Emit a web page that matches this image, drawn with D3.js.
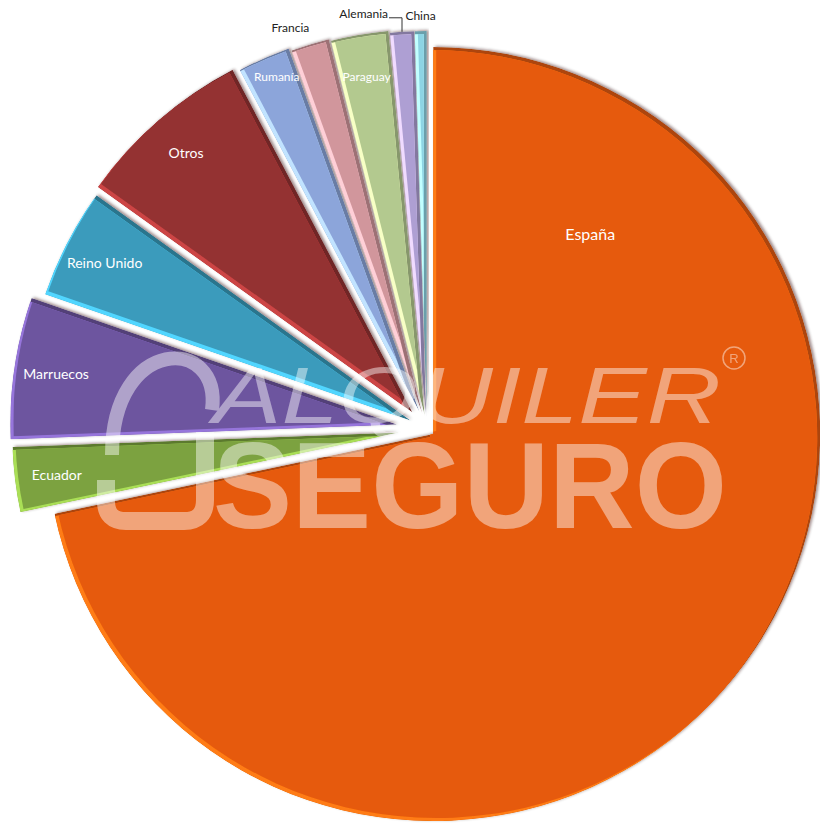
<!DOCTYPE html>
<html>
<head>
<meta charset="utf-8">
<script src="https://cdn.jsdelivr.net/npm/d3@7"></script>
<style>
  body { margin: 0; background: #fff; }
  svg { display: block; }
</style>
</head>
<body>
<div id="chart"></div>
<script>
// share of each country (%)
var categories = ["España", "Ecuador", "Marruecos", "Reino Unido", "Otros", "Rumanía", "Francia", "Paraguay", "Alemania", "China"];
var shares = [71.7, 2.7, 5.9, 4.6, 7.4, 2.2, 1.6, 2.4, 1.0, 0.5];
var colors = ["#E65A0E", "#7BA23F", "#6D559F", "#3B9BBC", "#943131", "#8CA5DA", "#D1969C", "#B3C98F", "#AE9FD3", "#8DD4E4"];

var w = 820, h = 830;
var cx = 427, cy = 429, R = 387;
// how far each slice is pulled out of the pie (px)
var explode = [8, 28, 30, 18, 22, 18, 15, 13, 11, 11];
var outsideBelow = 1.8;   // smaller slices get their label outside
var bevel = 3;
var bigLabel = {angle: 38, radius: 255};
var nudge = {"Francia": [-15, -2], "Rumanía": [-4, -20]};
var leader = {"Alemania": true};

var data = categories.map(function(c, i) {
    return {name: c, value: shares[i], color: colors[i], explode: explode[i]};
});

var pie = d3.pie().sort(null).value(function(d) { return d.value; });
var arcs = pie(data);
var arc = d3.arc().innerRadius(0).outerRadius(R);
var labelArc = d3.arc().innerRadius(R - 42).outerRadius(R - 42);
var outerArc = d3.arc().innerRadius(R + 16).outerRadius(R + 16);

function dir(a) { return [Math.sin(a), -Math.cos(a)]; }

var svg = d3.select("#chart").append("svg")
    .attr("width", w)
    .attr("height", h);

var defs = svg.append("defs");
defs.append("filter")
    .attr("id", "shadow")
    .attr("x", "-10%").attr("y", "-10%").attr("width", "120%").attr("height", "120%")
  .append("feDropShadow")
    .attr("dx", 2).attr("dy", -1)
    .attr("stdDeviation", 1.5)
    .attr("flood-color", "#2a1000")
    .attr("flood-opacity", 0.45);

var chart = svg.append("g").attr("transform", "translate(" + cx + "," + cy + ")");

//Slices, each with a light edge bottom-left and a dark edge top-right
arcs.forEach(function(a, i) {
    a.mid = (a.startAngle + a.endAngle) / 2;
    var v = dir(a.mid);
    a.off = [v[0] * a.data.explode, v[1] * a.data.explode];
    var d = arc(a);
    var base = d3.color(a.data.color);

    defs.append("clipPath").attr("id", "s" + i)
        .append("path").attr("d", d);
    defs.append("clipPath").attr("id", "u" + i)
        .append("path").attr("d", d)
        .attr("transform", "translate(" + bevel + "," + (-bevel) + ")");

    var g = chart.append("g")
        .attr("transform", "translate(" + a.off[0] + "," + a.off[1] + ")")
        .attr("filter", "url(#shadow)");
    var inner = g.append("g").attr("clip-path", "url(#s" + i + ")");
    inner.append("path").attr("d", d).attr("fill", base.darker(0.8));
    inner.append("path").attr("d", d)
        .attr("transform", "translate(" + (-bevel) + "," + bevel + ")")
        .attr("fill", base.brighter(0.9));
    inner.append("g").attr("clip-path", "url(#u" + i + ")")
      .append("path").attr("d", d)
        .attr("transform", "translate(" + (-bevel) + "," + bevel + ")")
        .attr("fill", base);
});

//Labels
var labels = chart.append("g")
    .attr("font-family", "Lato, 'Open Sans', sans-serif");

arcs.forEach(function(a, i) {
    var name = a.data.name;
    var n = nudge[name] || [0, 0];
    if (i === 0) {
        var v = dir(bigLabel.angle * Math.PI / 180);
        labels.append("text")
            .attr("x", a.off[0] + v[0] * bigLabel.radius)
            .attr("y", a.off[1] + v[1] * bigLabel.radius)
            .attr("text-anchor", "middle")
            .attr("dominant-baseline", "central")
            .attr("font-size", 16)
            .attr("fill", "#fff")
            .text(name);
    } else if (leader[name]) {
        var u = dir(a.mid);
        var px = a.off[0] + u[0] * R, py = a.off[1] + u[1] * R;
        var ey = py - 14;
        labels.append("path")
            .attr("d", "M" + (px - 13) + "," + ey + "L" + px + "," + ey + "L" + px + "," + py)
            .attr("fill", "none")
            .attr("stroke", "#333")
            .attr("stroke-width", 1);
        labels.append("text")
            .attr("x", px - 14)
            .attr("y", ey)
            .attr("text-anchor", "end")
            .attr("font-size", 12)
            .attr("fill", "#222")
            .text(name);
    } else if (a.data.value < outsideBelow) {
        var p = outerArc.centroid(a);
        labels.append("text")
            .attr("x", p[0] + a.off[0] + n[0])
            .attr("y", p[1] + a.off[1] + n[1])
            .attr("text-anchor", "middle")
            .attr("dominant-baseline", "central")
            .attr("font-size", 12)
            .attr("fill", "#222")
            .text(name);
    } else {
        var q = labelArc.centroid(a);
        labels.append("text")
            .attr("x", q[0] + a.off[0] + n[0])
            .attr("y", q[1] + a.off[1] + n[1])
            .attr("text-anchor", "middle")
            .attr("dominant-baseline", "central")
            .attr("font-size", a.data.value >= 2.5 ? 14 : 12)
            .attr("fill", "#fff")
            .text(name);
    }
});

//Watermark on top
var wm = svg.append("g")
    .attr("fill", "#fff")
    .attr("opacity", 0.45);

wm.append("text")
    .attr("x", 213).attr("y", 423)
    .attr("font-family", "'Liberation Sans', Arial, sans-serif")
    .attr("font-style", "italic")
    .attr("font-size", 80)
    .attr("textLength", 508)
    .attr("lengthAdjust", "spacingAndGlyphs")
    .text("ALQUILER");

wm.append("text")
    .attr("x", 213).attr("y", 528)
    .attr("font-family", "'Liberation Sans', Arial, sans-serif")
    .attr("font-weight", "bold")
    .attr("font-size", 122)
    .attr("textLength", 514)
    .attr("lengthAdjust", "spacingAndGlyphs")
    .text("SEGURO");

wm.append("circle")
    .attr("cx", 734).attr("cy", 358).attr("r", 11)
    .attr("fill", "none")
    .attr("stroke", "#fff")
    .attr("stroke-width", 1.5);
wm.append("text")
    .attr("x", 734).attr("y", 358)
    .attr("text-anchor", "middle")
    .attr("dominant-baseline", "central")
    .attr("font-family", "'Liberation Sans', sans-serif")
    .attr("font-size", 13)
    .text("R");

// logo: arch and hook
wm.append("path")
    .attr("d", "M112,455 C112,335 222,335 212,410")
    .attr("fill", "none")
    .attr("stroke", "#fff")
    .attr("stroke-width", 14);
wm.append("path")
    .attr("d", "M205,432 L205,500 Q205,521 184,521 L126,521 Q106,521 106,501 L106,480")
    .attr("fill", "none")
    .attr("stroke", "#fff")
    .attr("stroke-width", 18);
</script>
</body>
</html>
